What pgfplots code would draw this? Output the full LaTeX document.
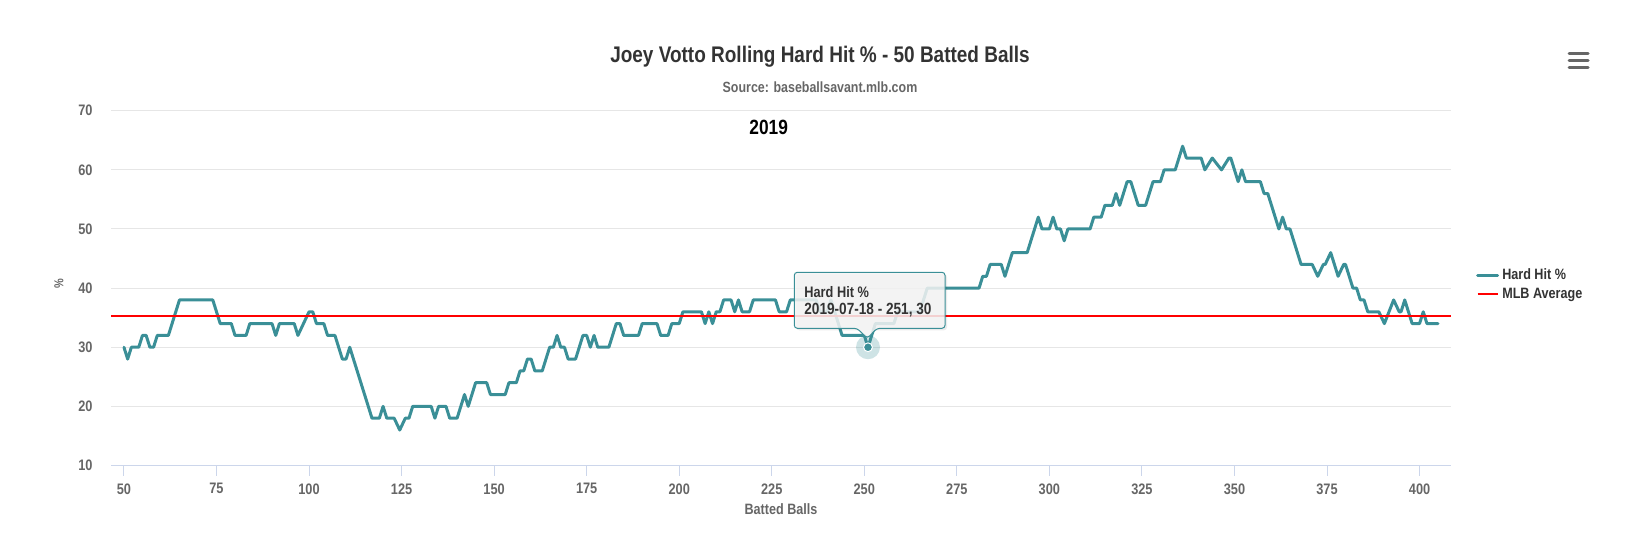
\documentclass[border=0pt]{standalone}
\usepackage{fontspec}
\setmainfont{Liberation Sans}[FakeStretch=0.84]
\usepackage{pgfplots}
\pgfplotsset{compat=1.18}
\definecolor{tealc}{HTML}{3A8F97}
\definecolor{gridc}{HTML}{E6E6E6}
\definecolor{axc}{HTML}{CCD6EB}
\definecolor{txt}{HTML}{666666}
\definecolor{dark}{HTML}{333333}
\begin{document}
\begin{tikzpicture}[x=0.5pt,y=0.5pt]
\path[use as bounding box] (0,0) rectangle (1632,542);
\begin{axis}[
  at={(55.5pt,38.25pt)}, anchor=south west, scale only axis,
  width=670pt, height=177.4pt,
  xmin=46.5, xmax=408.5, ymin=10, ymax=70,
  xtick={50,75,...,400}, ytick={10,20,...,70},
  axis line style={draw=none},
  ymajorgrids, grid style={gridc, line width=0.5pt},
  xtick pos=bottom, tick align=outside, major tick length=5pt,
  xtick style={axc, line width=0.5pt}, ytick style={draw=none},
  /pgf/number format/assume math mode=true,
  tick label style={font=\fontsize{7.6}{8}\selectfont\bfseries, text=txt},
  xticklabel style={anchor=center, yshift=-6.65pt},
  yticklabel style={anchor=east, inner sep=0pt, xshift=-4pt},
  legend style={at={(1.0187,0.509)}, anchor=west, draw=none, fill=none,
    inner sep=0pt, outer sep=0pt, row sep=2.6pt,
    font=\fontsize{7.5}{8}\selectfont\bfseries, text=dark,
    nodes={inner sep=0pt},
    /tikz/every odd column/.append style={column sep=1.6pt}},
  legend cell align=left,
  legend image code/.code={\draw[#1] (0pt,0pt) -- (10pt,0pt);},
]
\addplot[tealc, line width=1.5pt, line join=round, line cap=round] coordinates {
(50,30)(51,28)(52,30)(54,30)(55,32)(56,32)(57,30)(58,30)(59,32)(62,32)(65,38)(74,38)(76,34)(79,34)(80,32)(83,32)(84,34)(90,34)(91,32)(92,34)(96,34)(97,32)(100,36)(101,36)(102,34)(104,34)(105,32)(107,32)(109,28)(110,28)(111,30)(117,18)(119,18)(120,20)(121,18)(123,18)(124.5,16)(126,18)(127,18)(128,20)(133,20)(134,18)(135,20)(137,20)(138,18)(140,18)(142,22)(143,20)(145,24)(148,24)(149,22)(153,22)(154,24)(156,24)(157,26)(158,26)(159,28)(160,28)(161,26)(163,26)(165,30)(166,30)(167,32)(168,30)(169,30)(170,28)(172,28)(174,32)(175,32)(176,30)(177,32)(178,30)(181,30)(183,34)(184,34)(185,32)(189,32)(190,34)(194,34)(195,32)(197,32)(198,34)(200,34)(201,36)(206,36)(207,34)(208,36)(209,34)(210,36)(211,36)(212,38)(214,38)(215,36)(216,38)(217,36)(219,36)(220,38)(226,38)(227,36)(229,36)(230,38)(237,38)(238,36)(240,36)(241,38)(244,32)(250,32)(251,30)(252,32)(253,34)(258,34)(259,36)(265,36)(266,38)(267,40)(281,40)(282,42)(283,42)(284,44)(287,44)(288,42)(290,46)(294,46)(297,52)(298,50)(300,50)(301,52)(302,50)(303,50)(304,48)(305,50)(311,50)(312,52)(314,52)(315,54)(317,54)(318,56)(319,54)(321,58)(322,58)(324,54)(326,54)(328,58)(330,58)(331,60)(334,60)(336,64)(337,62)(341,62)(342,60)(344,62)(346.5,60)(348.5,62)(349,62)(351,58)(352,60)(353,58)(357,58)(358,56)(359,56)(362,50)(363,52)(364,50)(365,50)(368,44)(371,44)(372.5,42)(374,44)(374.5,44)(376,46)(378,42)(379.5,44)(380,44)(382,40)(383,40)(384,38)(385,38)(386,36)(389,36)(390.5,34)(393,38)(394.5,36)(395,36)(396,38)(398,34)(400,34)(401,36)(402,34)(405,34)
};
\addlegendentry{Hard Hit \%}
\addplot[red, line width=1pt] coordinates {(46.5,35.35)(408.5,35.35)};
\addlegendentry{MLB Average}
\addplot[only marks, mark=*, mark size=6pt, tealc, mark options={draw opacity=0, line width=0pt, fill=tealc, fill opacity=0.25}, forget plot] coordinates {(251,30)};
\addplot[only marks, mark=*, mark size=2.2pt, white, mark options={draw=white, line width=0.5pt, fill=tealc}, forget plot] coordinates {(251,30)};
\draw[axc, line width=0.5pt] (rel axis cs:0,0) -- (rel axis cs:1,0);
\end{axis}
% title texts
\node[text=dark, font=\fontsize{11.3}{13}\selectfont\bfseries] at (820,485) {Joey Votto Rolling Hard Hit \% - 50 Batted Balls};
\node[text=txt, font=\fontsize{7.4}{8}\selectfont\bfseries] at (820,454.5) {Source: baseballsavant.mlb.com};
\node[text=black, font=\fontsize{10.3}{12}\selectfont\bfseries] at (768.7,415) {2019};
\node[text=txt, font=\fontsize{6.5}{8}\selectfont\bfseries, rotate=90] at (59,258) {\%};
\node[text=txt, font=\fontsize{7.5}{8}\selectfont\bfseries] at (781,33) {Batted Balls};
% menu icon
\draw[txt, line width=1.5pt, line cap=round] (1569,488) -- (1588,488) (1569,481.3) -- (1588,481.3) (1569,474.7) -- (1588,474.7);
% tooltip
\fill[black, opacity=0.08, rounded corners=1.5pt] (796.3,211.7) -- (796.3,267.7) -- (947,267.7) -- (947,211.7) -- cycle;
\draw[tealc, line width=0.5pt, fill=white!96!black, fill opacity=0.85, rounded corners=1.5pt]
  (794.3,269.7) -- (945,269.7) -- (945,213.7) -- (877,213.7) -- (867.3,203.7) -- (857,213.7) -- (794.3,213.7) -- cycle;
\node[anchor=west, inner sep=0pt, text=dark, font=\fontsize{7.6}{8}\selectfont\bfseries] at (804,250) {Hard Hit \%};
\node[anchor=west, inner sep=0pt, text=dark, font=\fontsize{8.1}{9}\selectfont\bfseries] at (804,232) {2019-07-18 - 251, 30};
\end{tikzpicture}
\end{document}
